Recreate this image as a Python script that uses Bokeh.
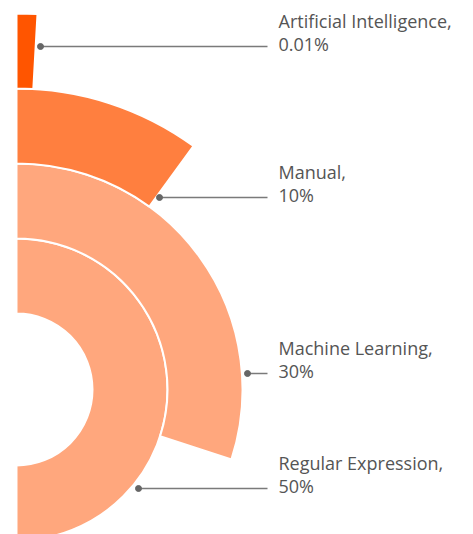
import math
from bokeh.plotting import figure
from bokeh.models import ColumnDataSource
from bokeh.core.properties import value
from bokeh.embed import file_html
from bokeh.resources import INLINE

# ---- data ----
categories = ["Regular Expression", "Machine Learning", "Manual", "Artificial Intelligence"]
percents = [50, 30, 10, 0.01]
pct_labels = ["50%", "30%", "10%", "0.01%"]
colors = ["#FFA77D", "#FFA77D", "#FF7F3F", "#FF5500"]

# ---- layout (pixels, relative to ring centre) ----
INNER = 76
RING_W = 75
MIN_SWEEP = math.radians(3.2)
label_y = [-99, 16, 192, 343]      # leader line heights
dot_x = [122, 231, 143, 24]        # where each leader line starts
line_end_x = 251
text_x = 262
line1_off = 26
line2_off = 3
CX, CY = 16, 389                   # ring centre in page pixels

W, H = 473, 534
p = figure(width=W, height=H, output_backend="svg", toolbar_location=None,
           x_range=(-CX, W - CX), y_range=(CY - H, CY),
           x_axis_location=None, y_axis_location=None, min_border=0)
p.grid.visible = False
p.outline_line_color = None
p.background_fill_color = "white"

inner_r, outer_r, starts, ends = [], [], [], []
for i, v in enumerate(percents):
    sweep = max(v / 100 * 2 * math.pi, MIN_SWEEP)
    inner_r.append(INNER + i * RING_W)
    outer_r.append(INNER + (i + 1) * RING_W)
    starts.append(math.pi / 2)
    ends.append(math.pi / 2 - sweep)

src = ColumnDataSource(dict(inner=inner_r, outer=outer_r, start=starts, end=ends,
                            color=colors))
p.annular_wedge(x=0, y=0, inner_radius="inner", outer_radius="outer",
                start_angle="start", end_angle="end", direction="clock",
                fill_color="color", line_color="white", line_width=2, source=src)

# leader lines & dots
for dx, ly in zip(dot_x, label_y):
    p.line([dx, line_end_x], [ly, ly], line_color="#7a7a7a", line_width=1.5)
p.scatter(dot_x, label_y, size=6, color="#666666")

tsrc = ColumnDataSource(dict(x=[text_x] * 4,
                             y1=[y + line1_off for y in label_y],
                             y2=[y + line2_off for y in label_y],
                             t1=[c + "," for c in categories],
                             t2=pct_labels))
common = dict(text_font=value("Open Sans"), text_font_size="18px", text_color="#555555",
              text_baseline="middle", text_align="left", source=tsrc)
p.text(x="x", y="y1", text="t1", **common)
p.text(x="x", y="y2", text="t2", **common)

open("out.html", "w").write(file_html(p, INLINE))
